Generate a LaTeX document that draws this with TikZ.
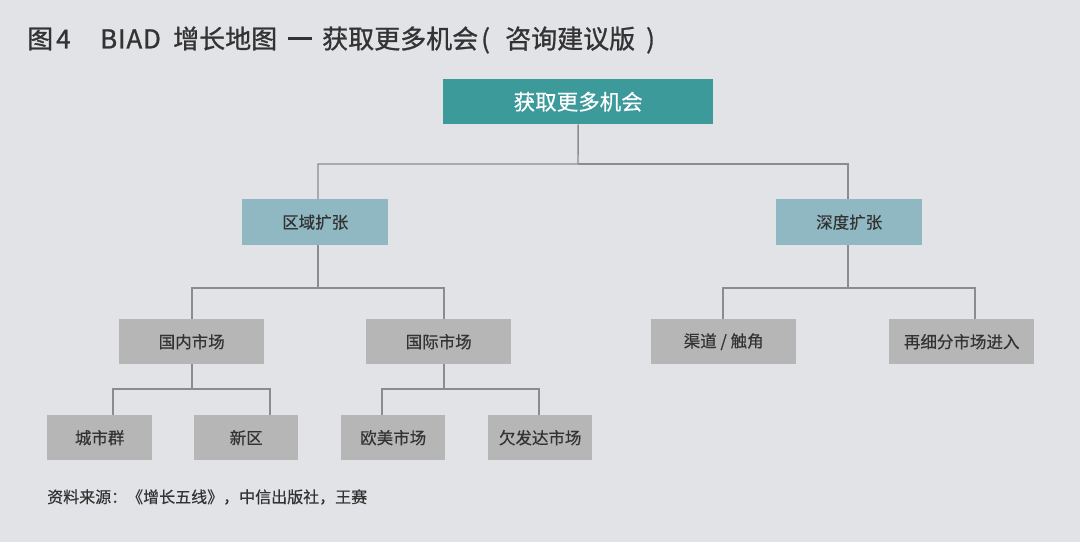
\documentclass[tikz,border=0pt]{standalone}
\usepackage{fontspec}
\setmainfont[FakeBold=0.4]{Noto Sans CJK SC}
\newfontfamily\titlefont[FakeBold=1.0]{Noto Sans CJK SC}
\definecolor{bg}{HTML}{E2E3E7}
\definecolor{teal1}{HTML}{3D9A9B}
\definecolor{blue1}{HTML}{8FB8C2}
\definecolor{gray1}{HTML}{B6B6B6}
\definecolor{line1}{HTML}{8C8C8C}
\definecolor{txt}{HTML}{333333}
\begin{document}
\begin{tikzpicture}[x=1pt,y=-1pt,
  box/.style={rectangle,inner sep=0pt,anchor=north west,text=txt,font=\fontsize{16.5}{20}\selectfont},
  conn/.style={draw=line1,line width=1.4pt}]
\fill[bg] (0,0) rectangle (1080,542);
\useasboundingbox (0,0) rectangle (1080,542);
\node[anchor=west,text=txt,inner sep=0pt,font=\titlefont\fontsize{26}{32}\selectfont] (title) at (27,40) {\makebox[29pt][l]{图}\makebox[44pt][l]{4}\makebox[73pt][l]{\addfontfeature{LetterSpace=3}BIAD}\makebox[115pt][l]{增长地图}\makebox[34pt][l]{\rule[0.34em]{24pt}{2.2pt}}\makebox[159pt][l]{获取更多机会}\makebox[24pt][l]{(}\makebox[141pt][l]{咨询建议版})};
\node[box,fill=teal1,text=white,minimum width=270pt,minimum height=45pt,font=\fontsize{21.5}{26}\selectfont] (root) at (443,79) {获取更多机会};
\node[box,fill=blue1,minimum width=146pt,minimum height=46pt] (qy) at (242,199) {区域扩张};
\node[box,fill=blue1,minimum width=146pt,minimum height=46pt] (sd) at (776,199) {深度扩张};
\node[box,fill=gray1,minimum width=145pt,minimum height=45pt] (gn) at (119,319) {国内市场};
\node[box,fill=gray1,minimum width=145pt,minimum height=45pt] (gj) at (366,319) {国际市场};
\node[box,fill=gray1,minimum width=145pt,minimum height=45pt] (qd) at (651,319) {渠道 / 触角};
\node[box,fill=gray1,minimum width=145pt,minimum height=45pt] (zx) at (889,319) {再细分市场进入};
\node[box,fill=gray1,minimum width=105pt,minimum height=45pt] (cs) at (47,415) {城市群};
\node[box,fill=gray1,minimum width=104pt,minimum height=45pt] (xq) at (194,415) {新区};
\node[box,fill=gray1,minimum width=104pt,minimum height=45pt] (om) at (341,415) {欧美市场};
\node[box,fill=gray1,minimum width=104pt,minimum height=45pt] (qf) at (488,415) {欠发达市场};
\node[anchor=west,inner sep=0pt,text=txt,font=\fontsize{16}{20}\selectfont] (src) at (47,497) {资料来源：《增长五线》，中信出版社，王赛};
% connectors
\draw[conn] (root.south) -- (578,164) -| (qy.north -| 318,0);
\draw[conn] (578,164) -| (sd.north -| 848,0);
\draw[conn] (318,245) -- (318,288) -| (gn.north -| 192,0);
\draw[conn] (318,288) -| (gj.north -| 444,0);
\draw[conn] (848,245) -- (848,288) -| (qd.north -| 723,0);
\draw[conn] (848,288) -| (zx.north -| 975,0);
\draw[conn] (192,364) -- (192,389) -| (cs.north -| 113,0);
\draw[conn] (192,389) -| (xq.north -| 270,0);
\draw[conn] (444,364) -- (444,389) -| (om.north -| 382,0);
\draw[conn] (444,389) -| (qf.north -| 539,0);
\end{tikzpicture}
\end{document}
